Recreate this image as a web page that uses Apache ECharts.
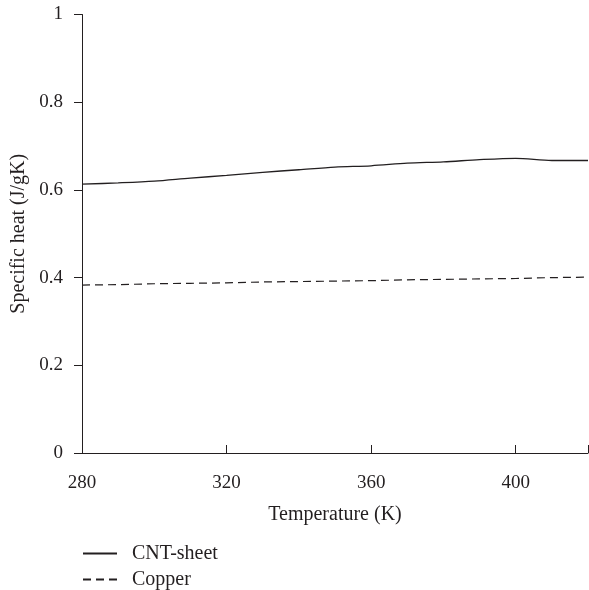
<!DOCTYPE html>
<html>
<head>
<meta charset="utf-8">
<script src="https://cdn.jsdelivr.net/npm/echarts@6/dist/echarts.min.js"></script>
<style>
    html, body { margin: 0; padding: 0; background: #fff; }
    #chart { width: 589px; height: 590px; }
</style>
</head>
<body>
<div id="chart"></div>
<script>
    // 温度 (K)
    var temps = [280, 290, 300, 310, 320, 330, 340, 350, 360, 370, 380, 390, 400, 410, 420];
    var cntSheet = [0.613, 0.616, 0.620, 0.627, 0.633, 0.640, 0.646, 0.652, 0.655, 0.661, 0.664, 0.669, 0.672, 0.667, 0.667];
    var copper = [0.383, 0.384, 0.386, 0.387, 0.388, 0.390, 0.391, 0.392, 0.393, 0.395, 0.396, 0.397, 0.398, 0.400, 0.401];
    var xTicks = [280, 320, 360, 400];

    var font = '"Liberation Serif", "DejaVu Serif", serif';
    var ink = '#231f20';

    function pairs(ys) {
        return temps.map(function (t, i) { return [t, ys[i]]; });
    }

    function legendRow(name, top) {
        return {
            left: 82,
            top: top,
            padding: 0,
            itemWidth: 34,
            itemHeight: 14,
            itemStyle: { opacity: 0 },
            textStyle: { fontFamily: font, fontSize: 20, color: ink, padding: [0, 0, 0, 10] },
            data: [name]
        };
    }

    var chart = echarts.init(document.getElementById('chart'));
    chart.setOption({
        animation: false,
        textStyle: { fontFamily: font, color: ink },
        grid: { left: 82, right: 1, top: 14.5, bottom: 137, containLabel: false, outerBoundsMode: 'none' },
        legend: [legendRow('CNT-sheet', 543.5), legendRow('Copper', 569.5)],
        xAxis: {
            type: 'value',
            min: 280,
            max: 420,
            interval: 40,
            name: 'Temperature (K)',
            nameLocation: 'middle',
            nameGap: 52,
            nameTextStyle: { fontFamily: font, fontSize: 20, color: ink },
            axisLine: { lineStyle: { color: ink, width: 1 } },
            axisTick: { inside: true, length: 8, lineStyle: { color: ink } },
            axisLabel: {
                fontFamily: font, fontSize: 19, color: ink, margin: 21,
                formatter: function (v) { return xTicks.indexOf(v) >= 0 ? v : ''; }
            },
            splitLine: { show: false }
        },
        yAxis: {
            type: 'value',
            min: 0,
            max: 1,
            interval: 0.2,
            name: 'Specific heat (J/gK)',
            nameLocation: 'middle',
            nameGap: 53,
            nameTextStyle: { fontFamily: font, fontSize: 20, color: ink },
            axisLine: { show: true, lineStyle: { color: ink, width: 1 } },
            axisTick: { show: true, length: 8, lineStyle: { color: ink } },
            axisLabel: { fontFamily: font, fontSize: 19, color: ink, margin: 19 },
            splitLine: { show: false }
        },
        series: [
            {
                name: 'CNT-sheet',
                type: 'line',
                data: pairs(cntSheet),
                smooth: 0.3,
                symbol: 'none',
                itemStyle: { color: ink },
                lineStyle: { color: ink, width: 1.3 }
            },
            {
                name: 'Copper',
                type: 'line',
                data: pairs(copper),
                symbol: 'none',
                itemStyle: { color: ink },
                lineStyle: { color: ink, width: 1.2, type: [8, 5] }
            }
        ]
    });
</script>
</body>
</html>
